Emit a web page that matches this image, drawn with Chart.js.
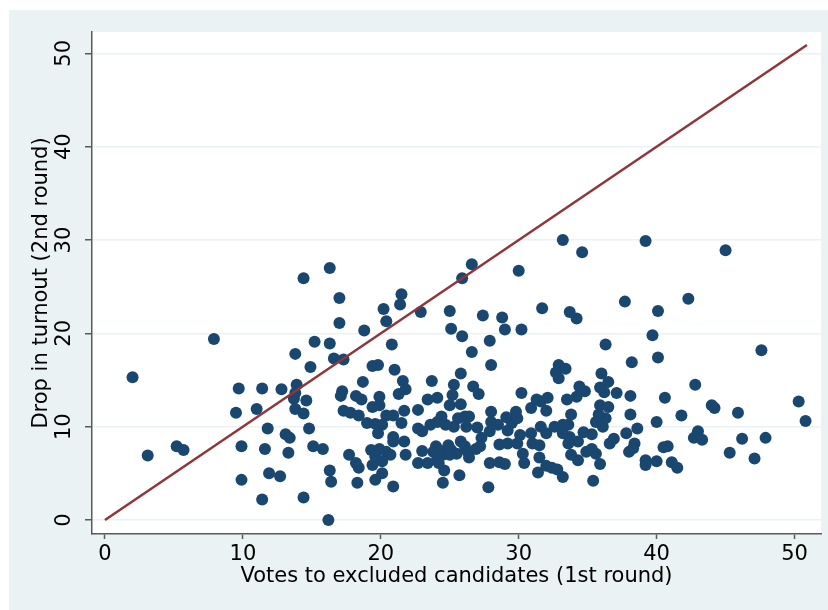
<!DOCTYPE html>
<html>
<head>
<meta charset="utf-8">
<script src="https://cdn.jsdelivr.net/npm/chart.js@4/dist/chart.umd.min.js"></script>
<style>
  html, body { margin: 0; padding: 0; background: #ffffff; }
  #wrap { width: 828px; height: 610px; }
</style>
</head>
<body>
<div id="wrap"><canvas id="c" width="828" height="610"></canvas></div>
<script>
// Votes to excluded candidates (1st round)
const xValues = [
  2.0, 7.9, 14.4, 16.3, 17.0, 17.0, 15.2, 16.3, 13.8, 16.6, 14.9,
  33.2, 34.6, 26.6, 25.9, 30.0, 21.5, 21.4, 20.2, 20.4, 22.9, 25.0, 18.8, 25.1, 25.9, 27.4, 28.8, 29.0, 30.2, 31.7, 33.7, 34.2, 20.8, 27.9, 26.6, 17.3, 19.4, 19.8, 21.0, 28.0, 25.8, 32.9, 33.4, 32.7, 32.9,
  39.2, 45.0, 37.7, 42.3, 40.1, 39.7, 36.3, 47.6, 38.2, 40.1, 36.0,
  9.7, 11.4, 12.8, 13.9, 13.8, 13.7, 14.6, 9.5, 11.0, 13.8, 14.4, 11.8, 14.8, 13.1, 13.4, 9.9, 11.6, 13.3, 15.1, 15.8, 3.1, 5.2, 5.7, 11.9, 12.7, 9.9, 16.3, 16.4, 11.4, 14.4, 16.2,
  36.5, 34.4, 34.8, 34.2, 35.9, 36.2, 37.1, 38.1, 42.8, 40.6, 35.9, 36.5, 35.8, 36.3, 35.6, 36.1, 38.1, 40.0, 41.8, 44.0, 44.2, 45.9, 50.3, 50.8, 38.6, 37.8, 34.7, 35.3, 34.3, 36.9, 36.6, 38.4, 38.3, 38.0, 34.9, 35.3, 35.6, 34.3, 35.9, 35.4, 40.5, 40.8, 39.2, 39.2, 40.0, 41.1, 41.5, 42.7, 43.0, 43.3, 46.2, 47.9, 45.3, 47.1,
  18.7, 21.6, 21.8, 23.7, 25.3, 26.7, 27.1, 30.2, 17.2, 17.1, 18.2, 18.6, 19.9, 19.4, 19.9, 21.3, 23.4, 24.1, 25.2, 25.0, 25.8, 31.3, 31.6, 32.1, 33.5, 30.9, 32.0,
  17.3, 17.8, 18.4, 21.7, 22.7, 20.4, 20.9, 19.0, 19.6, 20.1, 19.8, 21.5, 22.7, 23.0, 23.6, 24.4, 24.1, 24.7, 25.3, 25.6, 26.1, 26.4, 26.2, 27.0, 28.0, 28.0, 28.5, 27.9, 29.1, 29.5, 29.2, 29.8, 29.9, 30.9, 30.1, 31.6, 32.0, 32.6, 33.2, 33.6, 33.8, 33.2, 33.7, 33.6,
  20.9, 20.9, 21.7, 27.3, 28.6, 29.2, 29.9, 31.0, 31.5, 19.3, 19.9, 20.4, 20.7, 19.6, 20.1, 23.0, 21.8, 24.0, 24.2, 23.8, 24.5, 24.1, 24.9, 25.1, 25.5, 25.8, 26.1, 26.3, 26.4, 26.9, 27.2, 25.0,
  17.7, 18.2, 18.4, 19.4, 20.1, 19.6, 22.7, 23.4, 24.2, 24.6, 25.7, 24.5, 27.8, 18.3, 20.9, 27.9, 28.6, 29.0, 30.3, 30.4, 31.5, 31.4, 32.0, 32.4, 32.8, 33.2, 33.8
];
// Drop in turnout (2nd round)
const yValues = [
  15.3, 19.4, 25.9, 27.0, 23.8, 21.1, 19.1, 18.9, 17.8, 17.3, 16.4,
  30.0, 28.7, 27.4, 25.9, 26.7, 24.2, 23.1, 22.6, 21.3, 22.3, 22.4, 20.3, 20.5, 19.7, 21.9, 21.7, 20.4, 20.4, 22.7, 22.3, 21.6, 18.8, 19.2, 18.0, 17.2, 16.5, 16.6, 16.1, 16.6, 15.7, 16.6, 16.2, 15.8, 15.2,
  29.9, 28.9, 23.4, 23.7, 22.4, 19.8, 18.8, 18.2, 16.9, 17.4, 15.7,
  14.1, 14.1, 14.0, 14.5, 13.6, 13.0, 12.8, 11.5, 11.9, 11.9, 11.4, 9.8, 9.8, 9.2, 8.8, 7.9, 7.6, 7.2, 7.9, 7.6, 6.9, 7.9, 7.5, 5.0, 4.7, 4.3, 5.3, 4.1, 2.2, 2.4, 0.0,
  14.8, 14.3, 13.8, 13.2, 14.2, 13.7, 13.6, 13.3, 14.5, 13.1, 12.3, 12.1, 11.3, 10.9, 10.5, 10.0, 11.3, 10.5, 11.2, 12.3, 12.0, 11.5, 12.7, 10.6, 9.8, 9.3, 9.4, 9.2, 8.4, 8.7, 8.2, 8.2, 7.7, 7.3, 7.3, 7.6, 7.1, 6.4, 6.0, 4.2, 7.8, 7.9, 6.4, 5.9, 6.3, 6.2, 5.6, 8.8, 9.5, 8.6, 8.7, 8.8, 7.2, 6.6,
  14.8, 14.9, 14.0, 14.9, 14.5, 14.3, 13.5, 13.6, 13.8, 13.3, 13.3, 12.9, 13.2, 12.1, 12.3, 13.5, 12.9, 13.1, 13.4, 12.3, 12.4, 12.9, 12.7, 13.1, 12.9, 12.0, 11.7,
  11.7, 11.5, 11.2, 11.7, 11.8, 11.2, 11.2, 10.4, 10.3, 10.2, 9.3, 10.4, 9.8, 9.5, 10.2, 11.1, 10.5, 10.2, 10.0, 10.9, 11.1, 11.1, 10.0, 9.9, 11.6, 10.5, 10.2, 9.5, 11.0, 10.4, 9.6, 11.6, 10.9, 9.3, 9.1, 10.0, 9.3, 10.0, 10.2, 10.2, 11.3, 9.3, 8.9, 8.2,
  8.9, 8.4, 8.4, 8.8, 8.1, 8.2, 8.2, 8.2, 8.0, 7.5, 7.6, 7.3, 7.0, 6.8, 6.3, 7.4, 7.0, 7.9, 7.5, 7.3, 7.0, 6.6, 8.0, 7.5, 7.1, 8.4, 7.9, 7.3, 6.7, 7.6, 7.9, 7.0,
  7.0, 6.1, 5.6, 5.9, 5.0, 4.3, 6.1, 6.1, 6.1, 5.3, 4.8, 4.0, 3.5, 4.0, 3.6, 6.1, 6.2, 6.0, 7.1, 6.1, 6.7, 5.1, 5.8, 5.6, 5.4, 4.6, 7.0
];
// Reference line y = x over the range of the data
const lineX = [0, 50.9];
const lineY = [0, 50.9];
const xTicks = [0, 10, 20, 30, 40, 50];
const yTicks = [0, 10, 20, 30, 40, 50];
const xTitle = 'Votes to excluded candidates (1st round)';
const yTitle = 'Drop in turnout (2nd round)';

const scatterData = xValues.map((x, i) => ({ x: x, y: yValues[i] }));
const lineData = lineX.map((x, i) => ({ x: x, y: lineY[i] }));

const FONT = { family: 'DejaVu Sans', size: 21 };
const AXIS = '#5a5a5a';

const bgPlugin = {
  id: 'bg',
  beforeDraw(chart) {
    const { ctx, chartArea: a } = chart;
    ctx.save();
    ctx.fillStyle = '#ffffff';
    ctx.fillRect(0, 0, chart.width, chart.height);
    ctx.fillStyle = '#eaf2f3';
    ctx.fillRect(9, 10, chart.width - 9, chart.height - 10);
    ctx.fillStyle = '#ffffff';
    ctx.fillRect(a.left, a.top, a.right - a.left, a.bottom - a.top);
    ctx.restore();
  }
};

new Chart(document.getElementById('c'), {
  type: 'scatter',
  data: {
    datasets: [
      {
        type: 'line',
        data: lineData,
        borderColor: '#90353b',
        borderWidth: 2.5,
        pointRadius: 0,
        fill: false,
        showLine: true,
        order: 0
      },
      {
        data: scatterData,
        backgroundColor: '#1a476f',
        borderColor: '#1a476f',
        pointRadius: 6,
        pointBorderWidth: 0,
        order: 1
      }
    ]
  },
  options: {
    responsive: false,
    animation: false,
    devicePixelRatio: 1,
    layout: { padding: { left: 9, top: 32, right: 7, bottom: 0 } },
    plugins: { legend: { display: false }, tooltip: { enabled: false } },
    scales: {
      x: {
        type: 'linear',
        min: -0.94,
        max: 51.92,
        afterBuildTicks: s => { s.ticks = xTicks.map(v => ({ value: v })); },
        afterFit: s => { s.height = 76; },
        grid: { drawOnChartArea: false, drawTicks: true, tickLength: 5, tickColor: AXIS, tickWidth: 1.5 },
        border: { color: AXIS, width: 1.5 },
        ticks: { font: FONT, color: '#000', padding: 3, maxRotation: 0, minRotation: 0 },
        title: { display: true, text: xTitle, font: FONT, color: '#000', padding: { top: 0, bottom: 21 } }
      },
      y: {
        type: 'linear',
        min: -1.5,
        max: 52.29,
        afterBuildTicks: s => { s.ticks = yTicks.map(v => ({ value: v })); },
        afterFit: s => { s.width = 83; },
        grid: { drawOnChartArea: true, color: '#eaf2f3', lineWidth: 1.5, drawTicks: true, tickLength: 7, tickColor: AXIS, tickWidth: 1.5 },
        border: { color: AXIS, width: 1.5 },
        ticks: { font: FONT, color: '#000', padding: 7, minRotation: 90, maxRotation: 90, crossAlign: 'center' },
        title: { display: true, text: yTitle, font: FONT, color: '#000', padding: { top: 20, bottom: 0 } }
      }
    }
  },
  plugins: [bgPlugin]
});
</script>
</body>
</html>
